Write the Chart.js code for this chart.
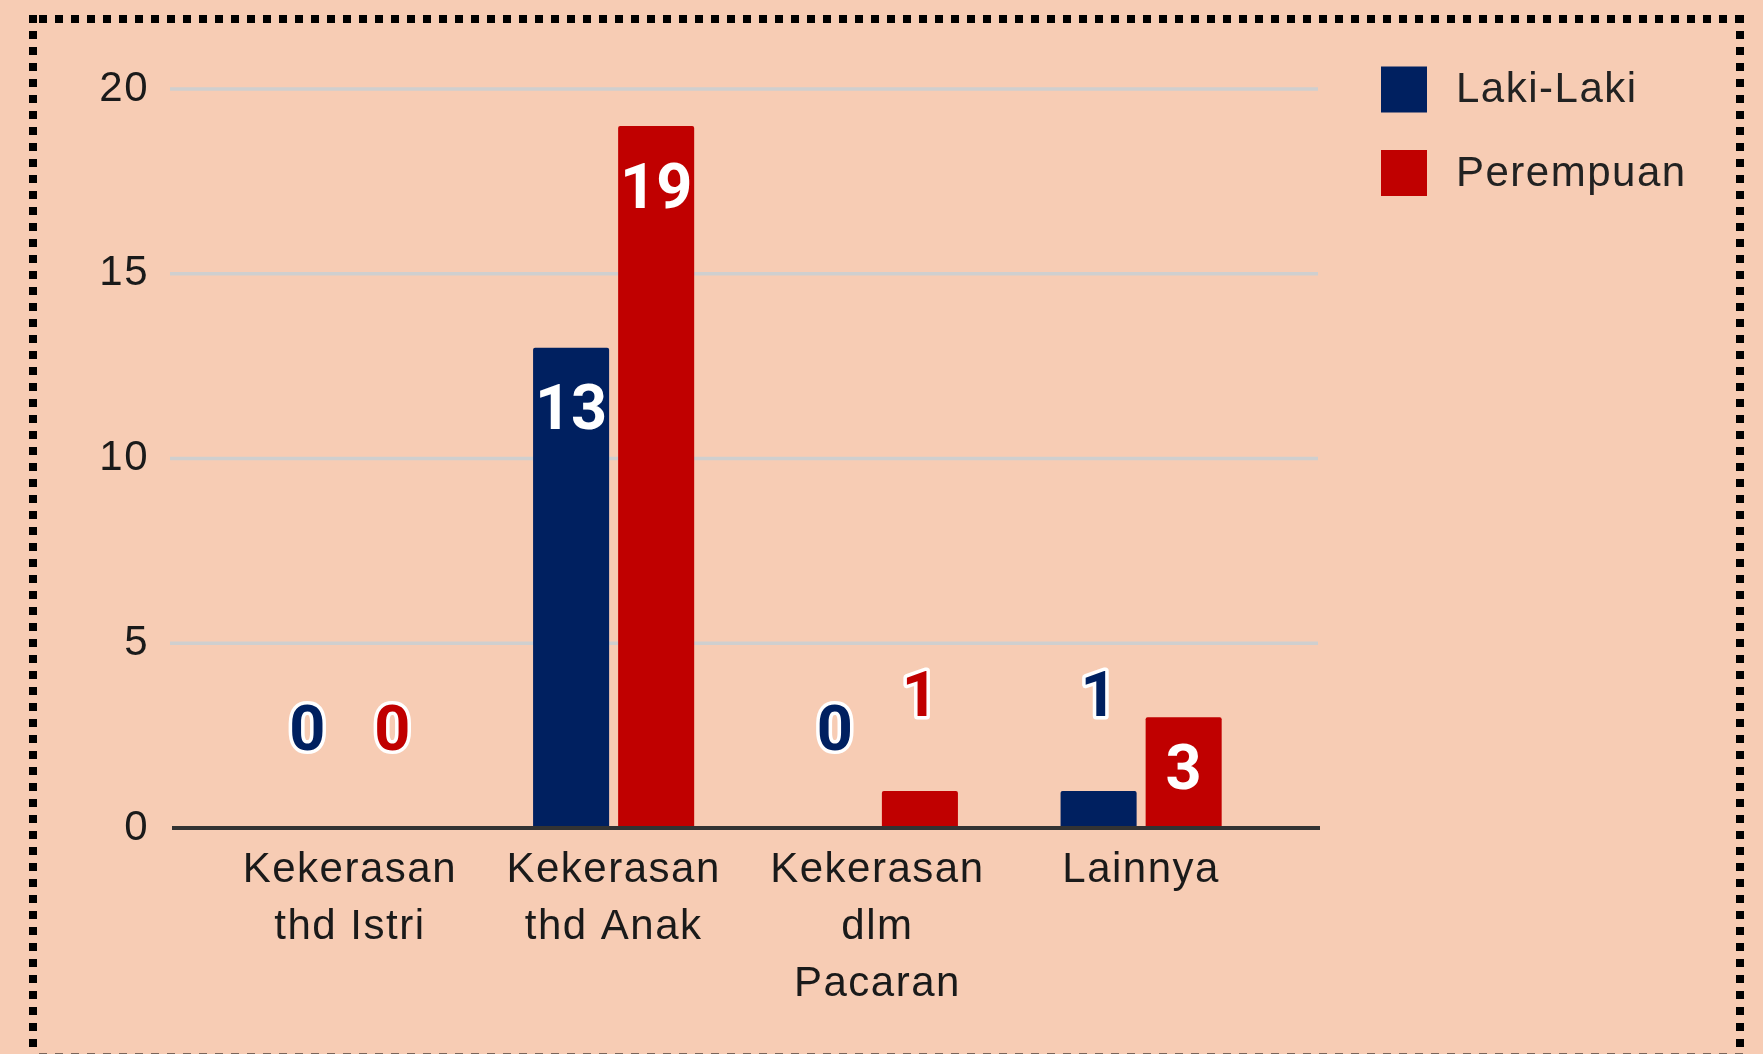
<!DOCTYPE html>
<html>
<head>
<meta charset="utf-8">
<script src="https://cdn.jsdelivr.net/npm/chart.js@4.4.0/dist/chart.umd.min.js"></script>
<style>
  html, body { margin: 0; padding: 0; background: #F7CCB4; }
  #wrap { width: 1763px; height: 1054px; position: relative; overflow: hidden; }
  canvas { display: block; }
</style>
</head>
<body>
<div id="wrap"><canvas id="c" width="1763" height="1054"></canvas></div>
<script>
// ---- data ----
const categories = [["Kekerasan", "thd Istri"], ["Kekerasan", "thd Anak"], ["Kekerasan", "dlm", "Pacaran"], "Lainnya"];
const seriesNames = ["Laki-Laki", "Perempuan"];
const lakiLaki = [0, 13, 0, 1];
const perempuan = [0, 19, 1, 3];
const yTicks = [0, 5, 10, 15, 20];
const seriesColors = ["#002060", "#C00000"];

const FONT = "'Liberation Sans', Arial, sans-serif";
Chart.defaults.font.family = FONT;

const PLOT_TOP = 89;

const extras = {
  id: 'extras',
  afterLayout(chart) {
    // pin the top of the value axis
    const y = chart.scales.y;
    y.top = PLOT_TOP;
    y.height = y.bottom - PLOT_TOP;
    y.configure();
    chart.chartArea.top = PLOT_TOP;
    chart.chartArea.height = chart.chartArea.bottom - PLOT_TOP;
  },
  beforeDraw(chart) {
    chart.ctx.letterSpacing = '1.5px';
  },
  beforeDatasetsDraw(chart) {
    const ctx = chart.ctx, a = chart.chartArea, y = chart.scales.y;
    ctx.save();
    ctx.strokeStyle = '#CFCFCF';
    ctx.lineWidth = 3.5;
    yTicks.forEach(v => {
      if (v === 0) return;
      const py = y.getPixelForValue(v);
      ctx.beginPath();
      ctx.moveTo(a.left - 48, py);
      ctx.lineTo(a.right + 45, py);
      ctx.stroke();
    });
    ctx.restore();
  },
  afterDatasetsDraw(chart) {
    const ctx = chart.ctx, a = chart.chartArea, y = chart.scales.y;
    ctx.save();
    // zero axis line
    const p0 = y.getPixelForValue(0);
    ctx.strokeStyle = '#333333';
    ctx.lineWidth = 4;
    ctx.beginPath();
    ctx.moveTo(a.left - 46, p0);
    ctx.lineTo(a.right + 47, p0);
    ctx.stroke();

    // data labels
    ctx.letterSpacing = '0px';
    ctx.font = "bold 63px Roboto, 'Liberation Sans', sans-serif";
    ctx.textAlign = 'center';
    ctx.textBaseline = 'middle';
    ctx.lineJoin = 'round';
    chart.data.datasets.forEach((ds, di) => {
      const meta = chart.getDatasetMeta(di);
      meta.data.forEach((el, i) => {
        const v = ds.data[i];
        const h = el.base - el.y;
        const txt = String(v);
        if (h > 80) {
          const cy = el.y + Math.min(66, h / 2 + 1);
          ctx.fillStyle = '#FFFFFF';
          ctx.fillText(txt, el.x, cy);
        } else {
          const cy = el.y - (h > 1 ? 91 : 94);
          ctx.strokeStyle = '#FFFFFF';
          ctx.lineWidth = 7;
          ctx.strokeText(txt, el.x, cy);
          ctx.fillStyle = ds.backgroundColor;
          ctx.fillText(txt, el.x, cy);
        }
      });
    });

    // legend
    ctx.letterSpacing = '1.5px';
    ctx.font = "42px " + FONT;
    ctx.textAlign = 'left';
    ctx.textBaseline = 'middle';
    chart.data.datasets.forEach((ds, di) => {
      const cy = 89.5 + di * 83.5;
      ctx.fillStyle = ds.backgroundColor;
      ctx.fillRect(1381, cy - 23, 46, 46);
      ctx.fillStyle = '#222222';
      ctx.fillText(ds.label, 1456, cy + 1);
    });
    ctx.restore();
  },
  afterDraw(chart) {
    const ctx = chart.ctx;
    ctx.save();
    ctx.strokeStyle = '#000000';
    ctx.lineWidth = 8;
    ctx.lineCap = 'butt';
    ctx.setLineDash([8, 8]);
    ctx.beginPath(); ctx.moveTo(33, 15); ctx.lineTo(33, 1060); ctx.stroke();
    ctx.beginPath(); ctx.moveTo(39, 19); ctx.lineTo(1746, 19); ctx.stroke();
    ctx.beginPath(); ctx.moveTo(1740, 15); ctx.lineTo(1740, 1060); ctx.stroke();
    ctx.beginPath(); ctx.moveTo(39, 1057.5); ctx.lineTo(1746, 1057.5); ctx.stroke();
    ctx.restore();
  }
};

new Chart(document.getElementById('c'), {
  type: 'bar',
  data: {
    labels: categories,
    datasets: [
      { label: seriesNames[0], data: lakiLaki, backgroundColor: seriesColors[0], borderRadius: 2, borderSkipped: 'bottom' },
      { label: seriesNames[1], data: perempuan, backgroundColor: seriesColors[1], borderRadius: 2, borderSkipped: 'bottom' }
    ]
  },
  options: {
    responsive: false,
    animation: false,
    events: [],
    devicePixelRatio: 1,
    layout: { padding: { left: 99, right: 490, top: 89, bottom: 44 } },
    datasets: { bar: { barPercentage: 0.894, categoryPercentage: 0.645 } },
    plugins: { legend: { display: false }, tooltip: { enabled: false }, title: { display: false } },
    scales: {
      x: {
        type: 'category',
        offset: true,
        grid: { display: false, drawTicks: false },
        border: { display: false },
        ticks: {
          color: '#1A1A1A',
          font: { size: 42, family: FONT, lineHeight: 1.36 },
          padding: 14,
          maxRotation: 0,
          minRotation: 0,
          autoSkip: false
        },
        afterFit(scale) { scale.height = 182; }
      },
      y: {
        min: 0,
        max: 20,
        grid: { display: false, drawTicks: false },
        border: { display: false },
        ticks: {
          stepSize: 5,
          color: '#1A1A1A',
          font: { size: 42, family: FONT },
          padding: 69
        },
        afterBuildTicks(scale) { scale.ticks = yTicks.map(v => ({ value: v })); },
        afterFit(scale) { scale.width = 119; }
      }
    }
  },
  plugins: [extras]
});
</script>
</body>
</html>
